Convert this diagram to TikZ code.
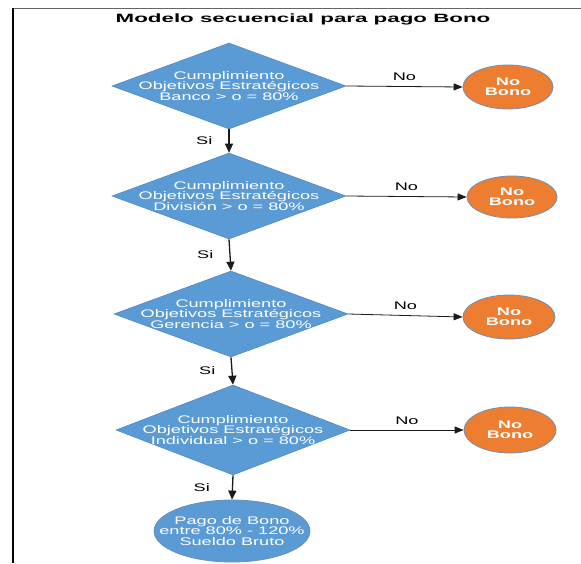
\documentclass[tikz,border=0pt]{standalone}
\usepackage{fontspec}
\usetikzlibrary{shapes.geometric,arrows.meta}
\setmainfont{Liberation Sans}
\newfontfamily\widefont[FakeStretch=1.65]{Liberation Sans}
\newfontfamily\titlefont[FakeStretch=1.86]{Liberation Sans}
\definecolor{flowblue}{HTML}{5B9BD5}
\definecolor{flowedge}{HTML}{4F89C4}
\definecolor{nobono}{HTML}{ED7D31}
\definecolor{ringblue}{HTML}{6E8FB5}
\definecolor{arrowink}{HTML}{1A1A1A}
\tikzset{
  decision/.style={diamond, fill=flowblue, draw=flowedge, line width=0.6pt,
    minimum width=234pt, minimum height=86pt, inner sep=0pt, aspect=2.7},
  reject/.style={ellipse, fill=nobono, draw=ringblue, line width=0.8pt,
    minimum width=90pt, minimum height=44pt, inner sep=0pt, align=center,
    text=white, font=\widefont\bfseries\fontsize{11}{10.5}\selectfont},
  payout/.style={ellipse, fill=flowblue, draw=ringblue, line width=0.8pt,
    minimum width=156pt, minimum height=62pt, inner sep=0pt},
  inner/.style={align=center, text=white, inner sep=0pt,
    font=\widefont\fontsize{11}{10.5}\selectfont},
  branch/.style={text=black, font=\widefont\fontsize{11}{12}\selectfont, inner sep=0pt},
  noflow/.style={draw=arrowink, line width=0.8pt, -{Triangle[length=9pt,width=7pt]}},
  siflow/.style={draw=arrowink, line width=1.3pt, -{Triangle[length=9pt,width=8pt]}},
}
\begin{document}
\begin{tikzpicture}[x=1pt, y=-1pt]
  \useasboundingbox (0,0) rectangle (581,563);
  \fill[white] (0,0) rectangle (581,563);

  % frame lines
  \draw[gray!80!black, line width=1.5pt] (12,8.5) -- (581,8.5);
  \draw[black, line width=2.6pt] (12.8,7.8) -- (12.8,563);

  % title
  \node[inner sep=0pt, font=\titlefont\bfseries\fontsize{12}{14}\selectfont] (title) at (303,19)
    {Modelo secuencial para pago Bono};

  % decisions
  \node[decision, label={[inner]center:{Cumplimiento\\Objetivos Estratégicos\\Banco > o = 80\%}}]
    (d1) at (229,86) {};
  \node[decision, label={[inner]center:{Cumplimiento\\Objetivos Estratégicos\\División > o = 80\%}}]
    (d2) at (229,196) {};
  \node[decision, label={[inner]center:{Cumplimiento\\Objetivos Estratégicos\\Gerencia > o = 80\%}}]
    (d3) at (231,314) {};
  \node[decision, minimum height=90pt,
    label={[inner]center:{Cumplimiento\\Objetivos Estratégicos\\Individual > o = 80\%}}]
    (d4) at (233,430) {};

  % outcomes
  \node[reject] (n1) at (508,87) {No\\Bono};
  \node[reject, minimum height=42pt] (n2) at (512,197) {No\\Bono};
  \node[reject, minimum width=92pt] (n3) at (509,317) {No\\Bono};
  \node[reject, minimum width=92pt, minimum height=46pt] (n4) at (510,430) {No\\Bono};
  \node[payout, label={[inner]center:{Pago de Bono\\entre 80\% - 120\%\\Sueldo Bruto}}]
    (pay) at (232,531) {};

  % "No" branches
  \draw[noflow] (d1.east) -- node[branch, midway, above=5pt] {No} (n1.west);
  \draw[noflow] (d2.east) -- node[branch, midway, above=5pt] {No} (n2.west);
  \draw[noflow] (d3.east) -- node[branch, midway, above=5pt] {No} (n3.west);
  \draw[noflow] (d4.east) -- node[branch, midway, above=5pt] {No} (n4.west);

  % "Si" branches
  \draw[siflow] (d1.south) -- node[branch, midway, anchor=east, xshift=-16pt] {Si} (d2.north);
  \draw[siflow] (d2.south) -- node[branch, midway, anchor=east, xshift=-16pt] {Si} (d3.north);
  \draw[siflow] (d3.south) -- node[branch, midway, anchor=east, xshift=-16pt] {Si} (d4.north);
  \draw[siflow] (d4.south) -- node[branch, midway, anchor=east, xshift=-22pt] {Si} (pay.north);
\end{tikzpicture}
\end{document}
